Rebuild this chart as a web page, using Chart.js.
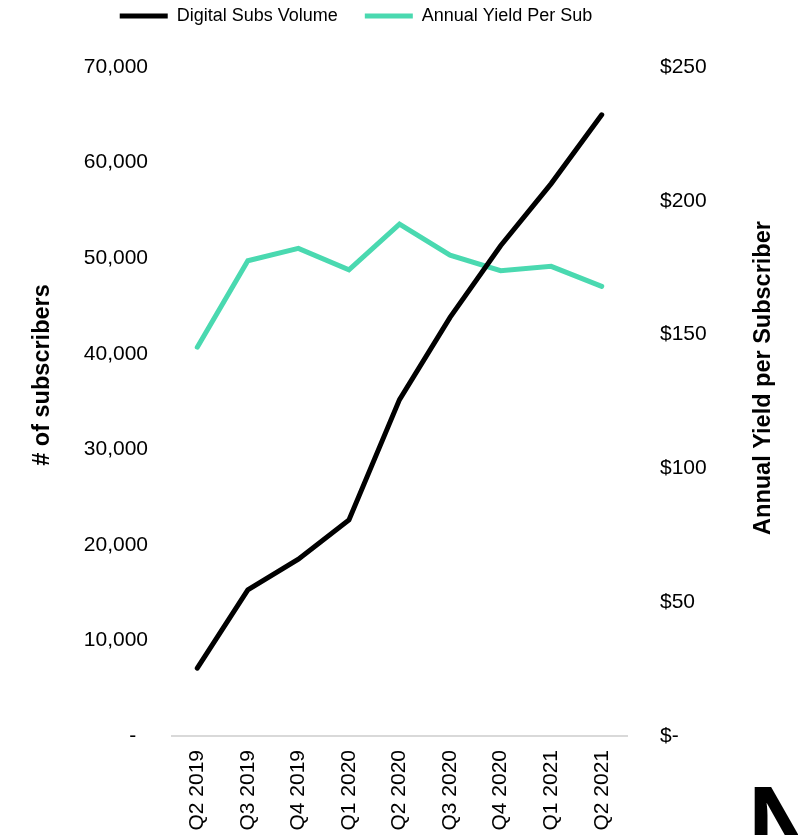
<!DOCTYPE html>
<html>
<head>
<meta charset="utf-8">
<script src="https://cdn.jsdelivr.net/npm/chart.js@4/dist/chart.umd.min.js"></script>
<style>
  html, body { margin: 0; padding: 0; background: #fff; }
  #wrap { width: 798px; height: 835px; position: relative; }
</style>
</head>
<body>
<div id="wrap"><canvas id="subs-chart"></canvas></div>
<script>
const quarters = ["Q2 2019", "Q3 2019", "Q4 2019", "Q1 2020", "Q2 2020", "Q3 2020", "Q4 2020", "Q1 2021", "Q2 2021"];
const subsVolume = [7100, 15300, 18500, 22600, 35200, 43800, 51300, 57800, 65000];
const yieldPerSub = [145.3, 177.6, 182.2, 174.2, 191.3, 179.7, 173.9, 175.5, 168.0];

const subsAxisMax = 70000;
const subsAxisStep = 10000;
const yieldAxisMax = 250;
const yieldAxisStep = 50;

const leftTitle = "# of subscribers";
const rightTitle = "Annual Yield per Subscriber";

const FONT = "'Liberation Sans', Arial, sans-serif";

// axis titles read bottom-to-top on both sides, plus the cut-off logo letter
const extrasPlugin = {
    id: "extras",
    afterLayout(chart){
        // legend sits higher and a bit left of centre in the original
        const lg = chart.legend;
        const h = lg.bottom - lg.top;
        lg.top = 7 - lg.options.labels.padding;
        lg.bottom = lg.top + h;
        lg.left -= 43;
        lg.right -= 43;
    },
    afterDraw(chart){
        const ctx = chart.ctx;
        ctx.save();
        ctx.fillStyle = "#000";
        ctx.font = "bold 23.5px " + FONT;
        ctx.textAlign = "center";
        ctx.textBaseline = "middle";

        ctx.save();
        ctx.translate(43, 375);
        ctx.rotate(-Math.PI / 2);
        ctx.fillText(leftTitle, 0, 0);
        ctx.restore();

        ctx.save();
        ctx.translate(764, 378);
        ctx.rotate(-Math.PI / 2);
        ctx.fillText(rightTitle, 0, 0);
        ctx.restore();

        ctx.font = "bold 100px " + FONT;
        ctx.textAlign = "left";
        ctx.textBaseline = "alphabetic";
        ctx.fillText("N", 748, 856);
        ctx.restore();
    }
};

var ctx1 = document.getElementById("subs-chart").getContext("2d");
var myChart1 = new Chart(ctx1, {
    type: "line",
    data: {
        labels: quarters,
        datasets: [{
            label: "Digital Subs Volume",
            data: subsVolume,
            yAxisID: "y",
            borderColor: "#000000",
            backgroundColor: "#000000",
            borderWidth: 5,
            borderCapStyle: "round",
            pointRadius: 0,
            tension: 0,
            fill: false
        }, {
            label: "Annual Yield Per Sub",
            data: yieldPerSub,
            yAxisID: "y1",
            borderColor: "#4ad9b0",
            backgroundColor: "#4ad9b0",
            borderWidth: 5,
            borderCapStyle: "round",
            pointRadius: 0,
            tension: 0,
            fill: false
        }]
    },
    options: {
        responsive: true,
        maintainAspectRatio: false,
        animation: false,
        layout: {
            padding: { top: 12, left: 0, right: 0, bottom: 0 }
        },
        plugins: {
            legend: {
                position: "top",
                labels: {
                    usePointStyle: true,
                    pointStyle: "line",
                    pointStyleWidth: 48,
                    padding: 27,
                    color: "#000",
                    font: { family: FONT, size: 18 }
                }
            },
            tooltip: { enabled: false }
        },
        scales: {
            x: {
                offset: true,
                grid: { display: false, drawTicks: false },
                border: { display: true, color: "#d9d9d9", width: 2 },
                ticks: {
                    autoSkip: false,
                    minRotation: 90,
                    maxRotation: 90,
                    padding: 14,
                    color: "#000",
                    font: { family: FONT, size: 21 }
                },
                afterFit(scale){ scale.height = 99; }
            },
            y: {
                position: "left",
                min: 0,
                max: subsAxisMax,
                grid: { display: false, drawTicks: false },
                border: { display: false },
                ticks: {
                    stepSize: subsAxisStep,
                    padding: 24,
                    color: "#000",
                    font: { family: FONT, size: 21 },
                    callback: function(v){
                        return v === 0 ? "-  " : v.toLocaleString("en-US");
                    }
                },
                afterFit(scale){ scale.width = 172; }
            },
            y1: {
                position: "right",
                min: 0,
                max: yieldAxisMax,
                grid: { display: false, drawTicks: false },
                border: { display: false },
                ticks: {
                    stepSize: yieldAxisStep,
                    padding: 33,
                    color: "#000",
                    font: { family: FONT, size: 21 },
                    callback: function(v){
                        return v === 0 ? "$-" : "$" + v;
                    }
                },
                afterFit(scale){ scale.width = 171; }
            }
        }
    },
    plugins: [extrasPlugin]
});
</script>
</body>
</html>
